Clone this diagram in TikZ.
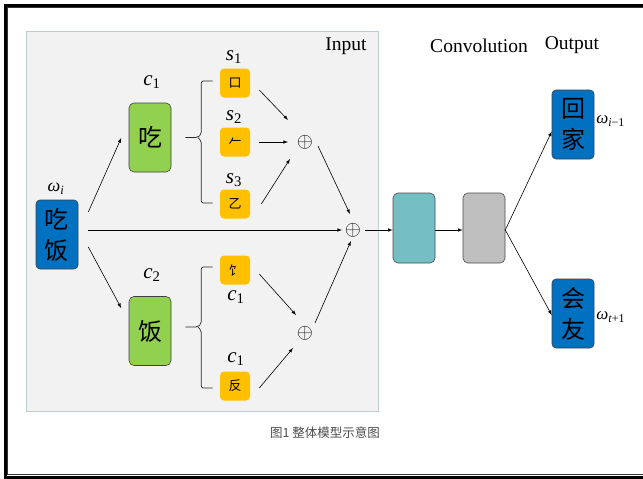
\documentclass[tikz,border=0pt]{standalone}
\usepackage{fontspec}
\setmainfont{Liberation Serif}
\newfontfamily\cjk{Noto Sans CJK SC}
\usetikzlibrary{shapes,arrows,positioning}

\definecolor{wordblue}{HTML}{0070C0}
\definecolor{radgreen}{HTML}{92D050}
\definecolor{partorange}{HTML}{FFC000}
\definecolor{convteal}{HTML}{74BFC4}
\definecolor{poolgray}{HTML}{BFBFBF}
\definecolor{panelgray}{HTML}{F2F2F2}
\definecolor{paneledge}{HTML}{BCCCCF}

\begin{document}
\begin{tikzpicture}[x=1pt,y=-1pt,->,>=latex,line width=0.6pt]
\tikzstyle{word} = [rectangle, draw=black!75, fill=wordblue, rounded corners=4pt, minimum width=42pt, minimum height=69pt, inner sep=0pt, align=center, font=\cjk\fontsize{24}{31}\selectfont]
\tikzstyle{radical} = [rectangle, draw=black!75, fill=radgreen, rounded corners=5pt, minimum width=42pt, minimum height=69pt, inner sep=0pt, font=\cjk\fontsize{24}{29}\selectfont]
\tikzstyle{part} = [rectangle, fill=partorange, rounded corners=4pt, minimum width=30pt, minimum height=29pt, inner sep=0pt, font=\cjk\fontsize{13}{15}\selectfont]
\tikzstyle{layer} = [rectangle, draw=black!70, rounded corners=5pt, minimum width=42pt, minimum height=70pt, inner sep=0pt]
\tikzstyle{sum} = [inner sep=0pt, text=black!90, font=\fontsize{21}{21}\selectfont]
\tikzstyle{tag} = [inner sep=0pt, font=\fontsize{21}{22}\selectfont]
\tikzstyle{head} = [inner sep=0pt, font=\fontsize{19.5}{22}\selectfont]
\tikzstyle{brace} = [-, rounded corners=2pt, line width=0.7pt, black!85]
\useasboundingbox (0,0) rectangle (643,479);
\fill[white] (0,0) rectangle (643,479);
% frame
\draw[-, line width=2.7pt] (660,5.3) -- (5.3,5.3) -- (5.3,477.3) -- (660,477.3);
\draw[-, line width=0.7pt, black!80] (660,7.8) -- (7.8,7.8) -- (7.8,474.8) -- (660,474.8);
% input panel
\draw[-, fill=panelgray, draw=paneledge, line width=1pt] (26,31) rectangle (378,411);
\node[head] (inlab) at (346,46) {Input};
\node[head] (convlab) at (479,46) {Convolution};
\node[head] (outlab) at (572,45) {Output};

\node[word] (w) at (57,234.5) {吃\\饭};
\node[radical] (r1) at (150,137.5) {吃};
\node[radical] (r2) at (150,331) {饭};
\node[part] (p1) at (235,83) {口};
\node[part] (p2) at (235,142) {𠂉};
\node[part] (p3) at (235,204) {乙};
\node[part] (p4) at (235,270) {饣};
\node[part] (p5) at (235,386) {反};
\node[sum] (sum1) at (305,142) {$\oplus$};
\node[sum] (sum2) at (305,333) {$\oplus$};
\node[sum] (sum) at (353,230) {$\oplus$};
\node[layer, fill=convteal] (conv) at (414,228) {};
\node[layer, fill=poolgray] (pool) at (484,228) {};
\node[word] (out1) at (573,124.5) {回\\家};
\node[word] (out2) at (573,313.5) {会\\友};

% labels
\node[tag, font=\fontsize{18}{20}\selectfont] (wlab) at (56,189) {\textit{ω}\textsubscript{\textit{i}}};
\node[tag] (c1lab) at (152,82) {\textit{c}\textsubscript{1}};
\node[tag] (c2lab) at (152,275) {\textit{c}\textsubscript{2}};
\node[tag] (s1lab) at (234,57) {\textit{s}\textsubscript{1}};
\node[tag] (s2lab) at (234,117) {\textit{s}\textsubscript{2}};
\node[tag] (s3lab) at (234,180) {\textit{s}\textsubscript{3}};
\node[tag] (p4lab) at (236,297) {\textit{c}\textsubscript{1}};
\node[tag] (p5lab) at (236,359) {\textit{c}\textsubscript{1}};
\node[tag, anchor=west, font=\fontsize{17}{20}\selectfont] (o1lab) at (596,121) {\textit{ω}\textsubscript{\textit{i}−1}};
\node[tag, anchor=west, font=\fontsize{17}{20}\selectfont] (o2lab) at (596,317) {\textit{ω}\textsubscript{\textit{t}+1}};
\node[inner sep=0pt, text=black!70, font=\cjk\fontsize{12.5}{14}\selectfont] (cap) at (325,433) {图1 整体模型示意图};

% braces
\draw[brace] ([xshift=14pt]r1.east) -- ++(12.5,0) -- ++(3.5,-3.5) |- ([shift={(-7,-2)}]p1.west);
\draw[brace] ([xshift=14pt]r1.east) ++(12.5,0) -- ++(3.5,3.5) |- ([shift={(-7,-1)}]p3.west);
\draw[brace] ([shift={(14,-4)}]r2.east) -- ++(12.5,0) -- ++(3.5,-3.5) |- ([shift={(-7,-3)}]p4.west);
\draw[brace] ([shift={(14,-4)}]r2.east) ++(12.5,0) -- ++(3.5,3.5) |- ([shift={(-7,2)}]p5.west);

\path ([shift={(10,-22.5)}]w.east) edge ([shift={(-7.5,0.5)}]r1.west)
      ([shift={(10,-4.5)}]w.east) edge ([shift={(-11,0)}]sum.center)
      ([shift={(10,12.5)}]w.east) edge ([shift={(-7.5,-23)}]r2.west)
      ([shift={(9,7)}]p1.east) edge ([shift={(-17,-22)}]sum1.center)
      ([shift={(9,0)}]p2.east) edge ([shift={(-17,0)}]sum1.center)
      ([shift={(11,0)}]p3.east) edge ([shift={(-15,17)}]sum1.center)
      ([shift={(13,4)}]sum1.center) edge ([shift={(-3,-16)}]sum.center)
      ([shift={(9,4)}]p4.east) edge ([shift={(-9,-18)}]sum2.center)
      ([shift={(9,2)}]p5.east) edge ([shift={(-12,15)}]sum2.center)
      ([shift={(10,-10)}]sum2.center) edge ([shift={(-2,11)}]sum.center)
      ([shift={(12,0)}]sum.center) edge ([shift={(0,2)}]conv.west)
      ([shift={(0,2)}]conv.east) edge ([shift={(0,2)}]pool.west)
      ([shift={(0,2)}]pool.east) edge ([shift={(0,7)}]out1.west)
      ([shift={(0,2)}]pool.east) edge ([shift={(0,1.5)}]out2.west);
\end{tikzpicture}
\end{document}
